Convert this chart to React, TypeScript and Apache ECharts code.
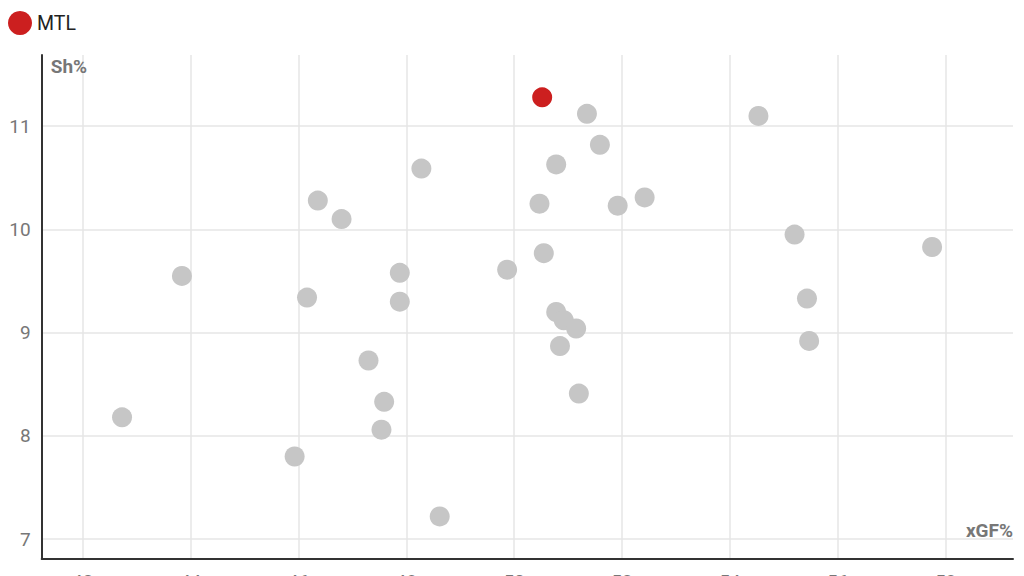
import { useEffect, useRef } from 'react';
import * as echarts from 'echarts';

// xGF% / Sh% values
const mtlXgf = [50.52];
const mtlSh = [11.28];

const otherXgf = [
  48.28, 46.36, 46.8, 43.84, 47.88, 46.16, 47.88, 47.3,
  47.59, 47.54, 42.73, 45.93, 48.62,
  51.35, 51.59, 50.78, 50.47, 51.92, 52.42, 50.55, 49.87,
  50.78, 50.92, 51.15, 50.85, 51.2,
  54.53, 55.2, 57.75, 55.43, 55.47,
];
const otherSh = [
  10.59, 10.28, 10.1, 9.55, 9.58, 9.34, 9.3, 8.73,
  8.33, 8.06, 8.18, 7.8, 7.22,
  11.12, 10.82, 10.63, 10.25, 10.23, 10.31, 9.77, 9.61,
  9.2, 9.12, 9.04, 8.87, 8.41,
  11.1, 9.95, 9.83, 9.33, 8.92,
];

const xRange = [41.24, 59.25];
const yRange = [6.81, 11.69];

const axisColor = '#333';
const labelColor = '#777';
const gridColor = '#e6e6e6';

export default function App() {
  const chartRef = useRef<HTMLDivElement>(null);

  useEffect(() => {
    document.body.style.margin = '0';
    if (!chartRef.current) return;
    const chart = echarts.init(chartRef.current, undefined, { renderer: 'svg' });

    const option: echarts.EChartsOption = {
      animation: false,
      backgroundColor: '#fff',
      textStyle: { fontFamily: 'Roboto' },
      legend: {
        data: ['MTL'],
        left: 8,
        top: 11,
        padding: 0,
        icon: 'circle',
        itemWidth: 24,
        itemHeight: 24,
        itemGap: 5,
        textStyle: { color: '#222', fontSize: 19.5, fontFamily: 'Roboto' },
      },
      grid: { left: 41.7, right: 11, top: 55, bottom: 17.3, outerBoundsMode: 'none' } as any,
      xAxis: {
        type: 'value',
        min: xRange[0],
        max: xRange[1],
        splitNumber: 9,
        name: 'xGF%',
        nameLocation: 'end',
        nameGap: 0,
        nameTextStyle: {
          align: 'right',
          verticalAlign: 'bottom',
          color: labelColor,
          fontSize: 19,
          fontWeight: 'bold',
          padding: [0, 0, 19, 0],
        },
        axisLine: { show: true, lineStyle: { color: axisColor, width: 2 } },
        axisTick: { show: false },
        axisLabel: {
          color: labelColor,
          fontSize: 19,
          margin: 13,
          showMinLabel: false,
          showMaxLabel: false,
        },
        splitLine: {
          show: true,
          showMinLine: false,
          showMaxLine: false,
          lineStyle: { color: gridColor, width: 1.5 },
        },
      },
      yAxis: {
        type: 'value',
        min: yRange[0],
        max: yRange[1],
        splitNumber: 5,
        name: 'Sh%',
        nameLocation: 'end',
        nameGap: -2,
        nameTextStyle: {
          align: 'left',
          verticalAlign: 'top',
          color: labelColor,
          fontSize: 19,
          fontWeight: 'bold',
          padding: [0, 0, 0, 9],
        },
        axisLine: { show: true, lineStyle: { color: axisColor, width: 2 } },
        axisTick: { show: false },
        axisLabel: {
          color: labelColor,
          fontSize: 19,
          margin: 11,
          showMinLabel: false,
          showMaxLabel: false,
        },
        splitLine: {
          show: true,
          showMinLine: false,
          showMaxLine: false,
          lineStyle: { color: gridColor, width: 1.5 },
        },
      },
      series: [
        {
          name: 'Others',
          type: 'scatter',
          symbolSize: 20,
          itemStyle: { color: '#c6c6c6', opacity: 1 },
          data: otherXgf.map((x, i) => [x, otherSh[i]]),
          z: 2,
        },
        {
          name: 'MTL',
          type: 'scatter',
          symbolSize: 20,
          itemStyle: { color: '#cc1f1f', opacity: 1 },
          data: mtlXgf.map((x, i) => [x, mtlSh[i]]),
          z: 3,
        },
      ],
    };

    chart.setOption(option);
    return () => {
      chart.dispose();
    };
  }, []);

  return <div ref={chartRef} style={{ width: 1024, height: 576 }} />;
}
